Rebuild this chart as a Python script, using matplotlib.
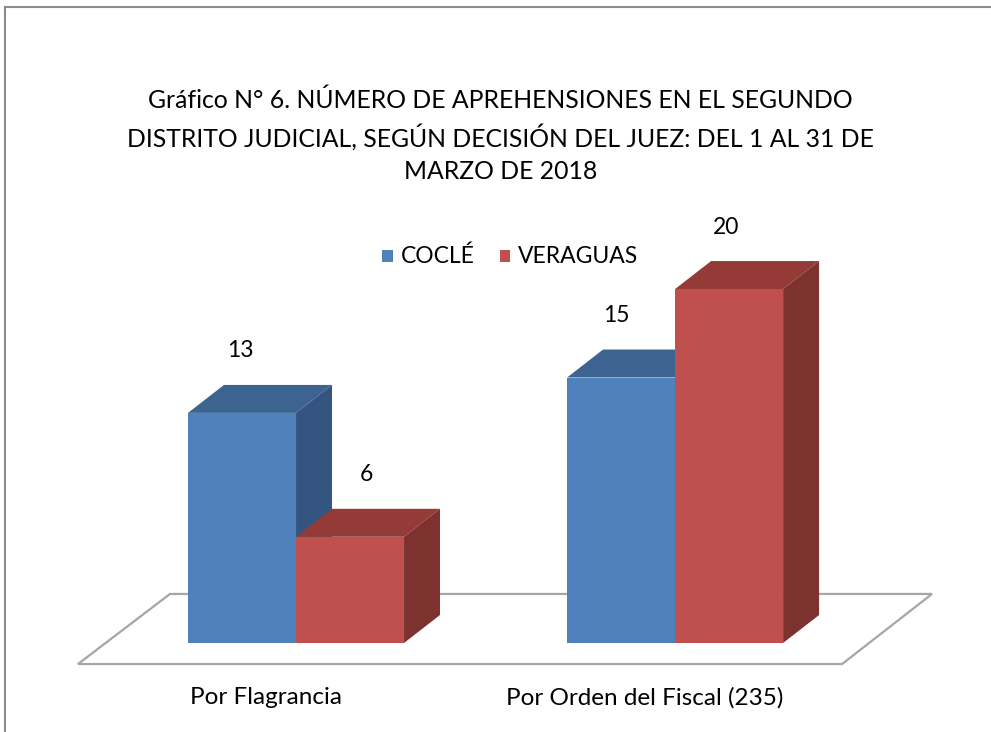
import matplotlib
matplotlib.use("Agg")
import matplotlib.pyplot as plt
from matplotlib.patches import Polygon, Rectangle

# data
categories = ["Por Flagrancia", "Por Orden del Fiscal (235)"]
series = ["COCLÉ", "VERAGUAS"]
coclé = [13, 15]
veraguas = [6, 20]
title = ("Gráfico N° 6. NÚMERO DE APREHENSIONES EN EL SEGUNDO\n"
         "DISTRITO JUDICIAL, SEGÚN DECISIÓN DEL JUEZ: DEL 1 AL 31 DE\n"
         "MARZO DE 2018")

front = ["#4f81bd", "#c0504d"]
top = ["#3d6491", "#943b38"]
side = ["#34557f", "#7d3230"]

plt.rcParams["font.family"] = ["Lato", "DejaVu Sans"]

fig = plt.figure(figsize=(9.91, 7.32), dpi=100)
ax = fig.add_axes([0, 0, 1, 1])
ax.set_xlim(-2.741, 6.435)
ax.set_ylim(-5.03, 36.33)
ax.axis("off")

# 3d depth offsets (in data units)
DX, DY = 0.333, 1.58
groups = [0.0, 3.51]

# floor
floor = Polygon([(-2.019, -1.19), (5.056, -1.19), (5.889, 2.77), (-1.167, 2.77)],
                closed=True, facecolor="white", edgecolor="#a6a6a6", lw=1.6, zorder=1)
ax.add_patch(floor)

def bar3d(x, h, i):
    ax.add_patch(Polygon([(x, h), (x + 1, h), (x + 1 + DX, h + DY), (x + DX, h + DY)],
                         closed=True, facecolor=top[i], edgecolor="none", zorder=2))
    ax.add_patch(Polygon([(x + 1, 0), (x + 1 + DX, DY), (x + 1 + DX, h + DY), (x + 1, h)],
                         closed=True, facecolor=side[i], edgecolor="none", zorder=2))
    ax.bar(x, h, width=1, align="edge", color=front[i], zorder=3)

label_dx = [[-0.02, 0.15], [-0.04, -0.03]]
for g, (gx, a, b) in enumerate(zip(groups, coclé, veraguas)):
    for i, (x, v) in enumerate([(gx - 1, a), (gx, b)]):
        bar3d(x, v, i)
        ax.text(x + 0.5 + label_dx[g][i], v + 3.5, str(v), ha="center", va="center",
                fontsize=16.5, color="black", zorder=5)
    ax.text(gx - 0.28, -3.1, categories[g], ha="center", va="center", fontsize=17.5)

# legend
for i, (lx, name) in enumerate(zip([0.80, 1.885], series)):
    ax.add_patch(Rectangle((lx, 21.5), 0.1, 0.73, facecolor=front[i], edgecolor="none"))
    ax.text(lx + 0.17, 21.85, name, ha="left", va="center", fontsize=16.5)

fig.text(0.505, 0.815, title, ha="center", va="center", fontsize=17.8, linespacing=1.5)

# outer border
fig.add_artist(plt.Line2D([5 / 991, 1], [1 - 7 / 732] * 2, color="#8c8c8c", lw=1.5))
fig.add_artist(plt.Line2D([5 / 991] * 2, [0, 1 - 7 / 732], color="#8c8c8c", lw=1.5))

fig.savefig("out.png", dpi=100)
